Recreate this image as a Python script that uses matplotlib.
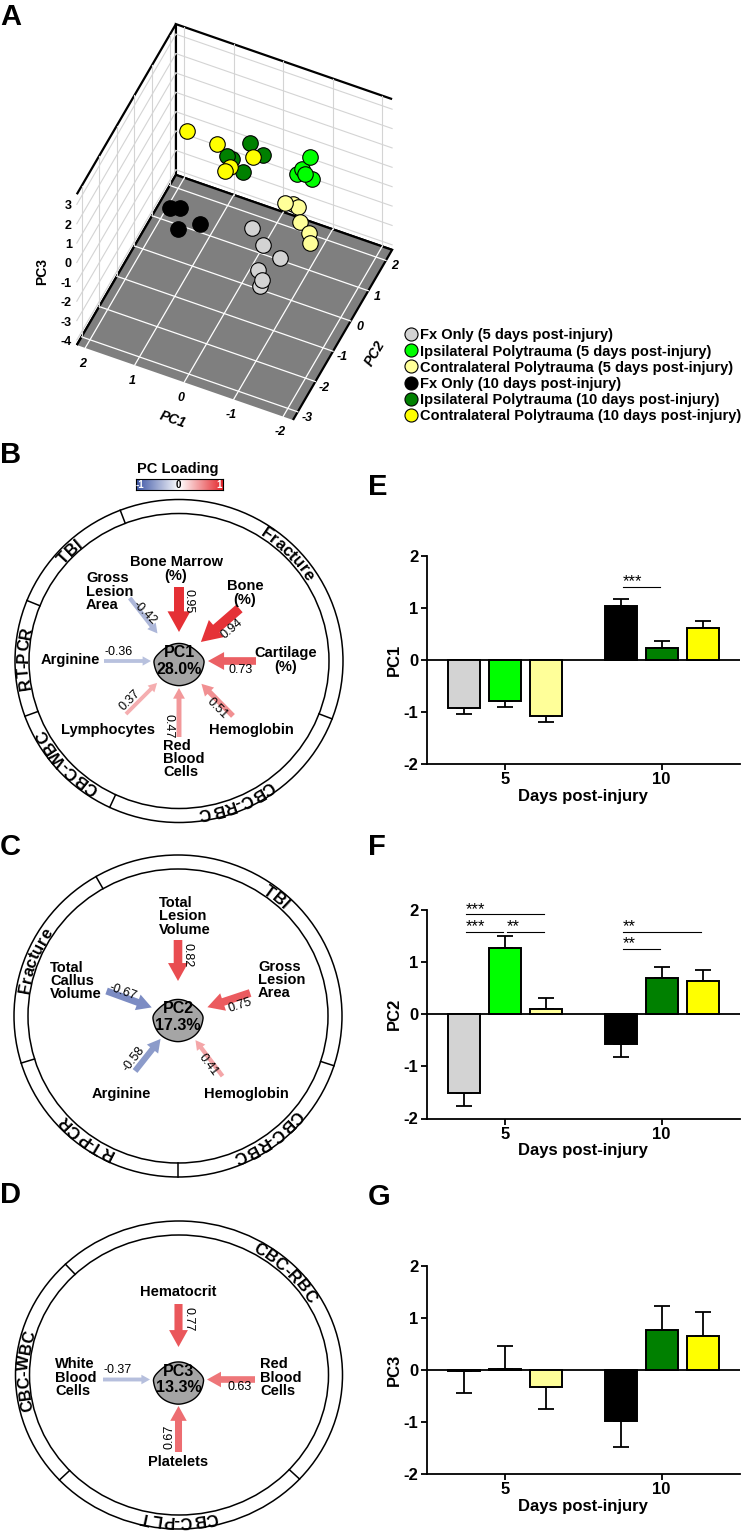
import numpy as np
import matplotlib
matplotlib.use("Agg")
import matplotlib.pyplot as plt
from matplotlib.colors import LinearSegmentedColormap, Normalize
from matplotlib.patches import FancyArrow, Ellipse, Polygon
from matplotlib.font_manager import FontProperties
from matplotlib.textpath import TextToPath
from matplotlib.lines import Line2D
from mpl_toolkits.mplot3d import proj3d

plt.rcParams['font.family'] = ['Liberation Sans', 'DejaVu Sans']
plt.rcParams['axes.unicode_minus'] = False
try:
    plt.rcParams['axes3d.automargin'] = False
except KeyError:
    pass

W, H = 742, 1533

# ---------------- data ----------------
groups = ['Fx Only (5 days post-injury)', 'Ipsilateral Polytrauma (5 days post-injury)',
          'Contralateral Polytrauma (5 days post-injury)', 'Fx Only (10 days post-injury)',
          'Ipsilateral Polytrauma (10 days post-injury)', 'Contralateral Polytrauma (10 days post-injury)']
colors = ['#d3d3d3', '#00ff00', '#ffff99', '#000000', '#008000', '#ffff00']

# A: PCA scores of each animal
pc1_a = [[-0.53, -0.83, -1.15, -0.92, -1.13, -1.06],
         [-0.79, -0.72, -0.61, -0.93, -0.81],
         [-0.75, -0.84, -0.97, -1.09, -1.37, -1.45],
         [1.26, 1.16, 1.10, 0.61],
         [0.20, -0.02, 0.50, 0.48, 0.16],
         [1.44, 0.85, 0.16, 0.46, 0.41]]
pc2_a = [[-0.93, -1.11, -1.05, -1.65, -2.03, -1.97],
         [1.65, 1.38, 1.41, 1.36, 1.33],
         [0.34, 0.57, 0.48, 0.23, -0.03, -0.19],
         [-0.56, -0.25, -0.53, -0.66],
         [1.01, 1.15, 0.55, 0.77, 0.53],
         [0.91, 0.95, 1.09, 0.33, 0.46]]
pc3_a = [[0.5, 0.2, -0.3, -0.2, 0.1, -0.4],
         [0.4, 0.1, -0.3, -0.2, 0.0],
         [0.0, -0.3, -0.2, -0.5, -0.4, -0.6],
         [-0.6, -1.0, -1.6, -0.7],
         [1.2, 0.6, 1.0, 0.5, 0.5],
         [0.9, 0.7, 0.4, 0.6, 0.65]]
pc1_lim = (-2.2, 2.17)
pc2_lim = (-3.27, 2.35)
pc3_lim = (-4.26, 3.52)
pc1_ticks = [-2, -1, 0, 1, 2]
pc2_ticks = [-3, -2, -1, 0, 1, 2]
pc3_ticks = [-4, -3, -2, -1, 0, 1, 2, 3]

# E-G: mean +/- SEM per group
days = ['5', '10']
pc1_mean = [-0.92, -0.78, -1.08, 1.04, 0.24, 0.62]
pc1_err = [0.12, 0.12, 0.12, 0.13, 0.12, 0.13]
pc2_mean = [-1.51, 1.28, 0.10, -0.58, 0.69, 0.64]
pc2_err = [0.25, 0.22, 0.22, 0.24, 0.21, 0.21]
pc3_mean = [-0.02, 0.01, -0.33, -0.98, 0.76, 0.65]
pc3_err = [0.42, 0.44, 0.42, 0.51, 0.46, 0.46]
pc1_sig = [(3, 4, 1.41, '***')]
pc2_sig = [(0, 2, 1.92, '***'), (0, 1, 1.58, '***'), (1, 2, 1.58, '**'),
           (3, 5, 1.58, '**'), (3, 4, 1.26, '**')]
pc3_sig = []

# B-D: loadings
pc_names = ['PC1', 'PC2', 'PC3']
pc_var = ['28.0%', '17.3%', '13.3%']
b_vars = ['Bone Marrow\n(%)', 'Bone\n(%)', 'Cartilage\n(%)', 'Hemoglobin', 'Red\nBlood\nCells',
          'Lymphocytes', 'Arginine', 'Gross\nLesion\nArea']
b_load = [0.95, 0.94, 0.73, 0.51, 0.47, 0.37, -0.36, -0.42]
b_cats = ['TBI', 'RT-PCR', 'CBC-WBC', 'CBC-RBC', 'Fracture']
c_vars = ['Total\nLesion\nVolume', 'Gross\nLesion\nArea', 'Hemoglobin', 'Arginine', 'Total\nCallus\nVolume']
c_load = [0.82, 0.75, 0.41, -0.58, -0.67]
c_cats = ['Fracture', 'RT-PCR', 'CBC-RBC', 'TBI']
d_vars = ['Hematocrit', 'Red\nBlood\nCells', 'Platelets', 'White\nBlood\nCells']
d_load = [0.77, 0.63, 0.67, -0.37]
d_cats = ['CBC-WBC', 'CBC-PLT', 'CBC-RBC']

# ---------------- layout of the loading diagrams (pixels) ----------------
b_lay = dict(c=(179, 661), hub=(0, 0), rx=164, ry=161.5, div=[111, 158, 200, 245, 339],
             ang=[90, 41, 0, -45.5, -90, -135, 180, 128],
             rt=[74, 80, 77, 77, 76, 75, 75, 80], rh=[29, 29, 29, 32, 27, 31, 28, 35],
             lab=[(-3, 92, 'center'), (66, 68, 'center'), (107, 1, 'center'), (72, -69, 'center'),
                  (-16, -98, 'left'), (-71, -69, 'center'), (-109, 1, 'center'), (-93, 69.5, 'left')],
             num=[(9.3, 60, -90), (53, 32, 40), (61.7, -9, 0), (37.7, -47.3, -45),
                  (-10.7, -65, -90), (-49, -39, 45), (-60.7, 9.3, 0), (-34, 47.7, -45)])
c_lay = dict(c=(178, 1016), hub=(0, -1), rx=164, ry=161, div=[120, 197, 270, 342],
             ang=[90, 18.4, -53, 231.5, 160],
             rt=[77, 76, 74, 69, 76], rh=[36, 31, 29, 28, 28],
             lab=[(-18.7, 100.5, 'left'), (80, 36.7, 'left'), (68.7, -76.7, 'center'),
                  (-56.3, -76.7, 'center'), (-128, 35.8, 'left')],
             num=[(9.3, 61.7, -90), (62, 11.7, 18), (30.3, -48.3, -53), (-44.7, -41.7, 52),
                  (-54.7, 25, -20)])
d_lay = dict(c=(179, 1375), hub=(-0.5, -4.5), rx=163.5, ry=154, div=[134, 223, 317.5],
             ang=[90, 0, -90, 180],
             rt=[75.5, 76.5, 72.5, 75.5], rh=[32.5, 28.5, 26.5, 28.5],
             lab=[(0, 87.5, 'center'), (81.5, 2, 'left'), (0, -82.5, 'center'), (-123.5, 2, 'left')],
             num=[(9.5, 60.5, -90), (61.5, -7.5, 0), (-9.5, -57.5, 90), (-60.5, 9.5, 0)])

cmap = LinearSegmentedColormap.from_list('pc_loading', ['#3b54a5', '#ffffff', '#e4262b'])
norm = Normalize(-1, 1)

fig = plt.figure(figsize=(W / 100, H / 100), dpi=100)


def rect(x0, y0, x1, y1):
    return [x0 / W, 1 - y1 / H, (x1 - x0) / W, (y1 - y0) / H]


# ---------------- A: 3D score plot ----------------
ax3 = fig.add_axes(rect(20, 10, 420, 410), projection='3d', proj_type='ortho', computed_zorder=False)
ax3.patch.set_visible(False)
ax3.set_box_aspect((1.02, 1, 1.0))
ax3.view_init(elev=50.5, azim=-155.8)
ax3.set_xlim(*pc2_lim)
ax3.set_ylim(*pc1_lim)
ax3.set_zlim(*pc3_lim)
ax3.set_xticks([])
ax3.set_yticks([])
ax3.set_zticks([])
ax3.grid(False)
ax3.xaxis.set_pane_color('white')
ax3.yaxis.set_pane_color('white')
ax3.zaxis.set_pane_color('#7f7f7f')
for axis in (ax3.xaxis, ax3.yaxis, ax3.zaxis):
    axis.pane.set_edgecolor('black')
    axis.pane.set_linewidth(1.6)
    axis.line.set_visible(False)

x_lo, x_hi = pc2_lim
y_lo, y_hi = pc1_lim
z_lo, z_hi = pc3_lim
wall = '#d4d4d4'
for v in pc1_ticks:
    ax3.plot([x_lo, x_hi], [v, v], [z_lo, z_lo], color='white', lw=0.9, zorder=1)
    ax3.plot([x_hi, x_hi], [v, v], [z_lo, z_hi], color=wall, lw=0.8, zorder=1)
for v in pc2_ticks:
    ax3.plot([v, v], [y_lo, y_hi], [z_lo, z_lo], color='white', lw=0.9, zorder=1)
    ax3.plot([v, v], [y_hi, y_hi], [z_lo, z_hi], color=wall, lw=0.8, zorder=1)
for v in pc3_ticks:
    ax3.plot([x_lo, x_hi], [y_hi, y_hi], [v, v], color=wall, lw=0.8, zorder=1)
    ax3.plot([x_hi, x_hi], [y_lo, y_hi], [v, v], color=wall, lw=0.8, zorder=1)

for g in range(6):
    ax3.scatter(pc2_a[g], pc1_a[g], pc3_a[g], s=125, c=colors[g], edgecolors='black',
                linewidths=0.8, depthshade=False, zorder=3)

fig.canvas.draw()


def to_px(x, y, z):
    xs, ys, _ = proj3d.proj_transform(np.array([x]), np.array([y]), np.array([z]), ax3.get_proj())
    dx, dy = ax3.transData.transform((xs[0], ys[0]))
    return np.array([dx, H - dy])


# fit the projected box onto its place in the figure
pF = to_px(x_lo, y_lo, z_lo)
pT = to_px(x_hi, y_hi, z_hi)
tF = np.array([293.0, 420.0])
tT = np.array([173.0, 25.0])
k = np.linalg.norm(tF - tT) / np.linalg.norm(pF - pT)
bb = ax3.get_position()
cen = np.array([(bb.x0 + bb.x1) / 2 * W, H - (bb.y0 + bb.y1) / 2 * H])
side = bb.width * W * k
cnew = tF - k * (pF - cen)
ax3.set_position(rect(cnew[0] - side / 2, cnew[1] - side / 2, cnew[0] + side / 2, cnew[1] + side / 2))
fig.canvas.draw()

tick_it = dict(fontsize=9, fontweight='bold', fontstyle='italic', ha='center', va='center')
for v in pc1_ticks:
    p = to_px(x_lo, v, z_lo)
    fig.text((p[0] - 2.7) / W, 1 - (p[1] + 15.8) / H, str(v), **tick_it)
for v in pc2_ticks:
    p = to_px(v, y_lo, z_lo)
    fig.text((p[0] + 9) / W, 1 - (p[1] + 6) / H, str(v), **tick_it)
for v in pc3_ticks:
    p = to_px(x_lo, y_hi, v)
    fig.text((p[0] - 5) / W, 1 - (p[1] + 2) / H, str(v), fontsize=9, fontweight='bold', ha='right', va='center')
fig.text(41.7 / W, 1 - 271.7 / H, 'PC3', fontsize=10, fontweight='bold', rotation=90, ha='center', va='center')
fig.text(173.3 / W, 1 - 420 / H, 'PC1', fontsize=10, fontweight='bold', fontstyle='italic',
         rotation=-19, ha='center', va='center')
fig.text(375 / W, 1 - 353.3 / H, 'PC2', fontsize=10, fontweight='bold', fontstyle='italic',
         rotation=60, ha='center', va='center')

handles = [Line2D([], [], marker='o', ls='', markersize=9.4, markerfacecolor=c,
                  markeredgecolor='black', markeredgewidth=0.8) for c in colors]
fig.legend(handles, groups, loc='upper left', bbox_to_anchor=(404 / W, 1 - 328.5 / H), frameon=False,
           prop=FontProperties(family=['Liberation Sans'], weight='bold', size=10.5),
           handlelength=1.0, handletextpad=0.1, labelspacing=0.14, borderpad=0, borderaxespad=0)

# ---------------- B-D: loading diagrams ----------------
ttp = TextToPath()
RING = 14


def curved_text(ax, s, ang, rx, ry, fs=12):
    fp = FontProperties(family=['Liberation Sans'], weight='bold', size=fs)
    kk = 100 / 72

    def wid(t):
        return ttp.get_text_width_height_descent(t, fp, ismath=False)[0] * kk if t else 0.0
    total = wid(s)
    cap = 0.716 * fs * kk
    r = (rx + ry) / 2 - cap / 2
    for i, ch in enumerate(s):
        c = (wid(s[:i]) + wid(s[:i + 1])) / 2 - total / 2
        a = np.radians(ang) - c / r
        ax.text((rx - cap / 2) * np.cos(a), (ry - cap / 2) * np.sin(a), ch, rotation=np.degrees(a) - 90,
                rotation_mode='anchor', ha='center', va='baseline', fontproperties=fp)


def hub_outline(hx, hy):
    # rounded triangle: wide domed top, pointed bottom
    V = np.array([[-25.5, 2], [25.5, 2], [0, -25]], float) + [hx, hy]
    bul = [16, 8, 8]
    pts = []
    t = np.linspace(0, 1, 7)[:-1]
    for i in range(3):
        p, q = V[i], V[(i + 1) % 3]
        d = q - p
        n = np.array([-d[1], d[0]]) / np.hypot(*d)
        c = (p + q) / 2 + 2 * bul[i] * n
        for s in t:
            pts.append((1 - s) ** 2 * p + 2 * s * (1 - s) * c + s ** 2 * q)
    pts = np.array(pts)
    for _ in range(4):
        nxt = np.roll(pts, -1, axis=0)
        pts = np.column_stack([0.75 * pts + 0.25 * nxt, 0.25 * pts + 0.75 * nxt]).reshape(-1, 2)
    return pts


def diagram(name, var, labels, loads, cats, lay):
    cx, cy = lay['c']
    y0 = cy - 190
    y1 = min(cy + 190, H)
    ax = fig.add_axes(rect(0, y0, 370, y1))
    ax.set_xlim(-cx, 370 - cx)
    ax.set_ylim(cy - y1, cy - y0)
    ax.axis('off')
    rx, ry = lay['rx'], lay['ry']
    for d in (0, RING):
        ax.add_patch(Ellipse((0, 0), 2 * (rx - d), 2 * (ry - d), fill=False, lw=1.1, ec='black'))
    div = lay['div']
    for a in div:
        t = np.radians(a)
        ax.plot([(rx - RING) * np.cos(t), rx * np.cos(t)], [(ry - RING) * np.sin(t), ry * np.sin(t)],
                color='black', lw=1.1)
    for i, cat in enumerate(cats):
        a0, a1 = div[i], div[(i + 1) % len(div)]
        if a1 < a0:
            a1 += 360
        curved_text(ax, cat, (a0 + a1) / 2, rx - RING / 2, ry - RING / 2)

    hx, hy = lay['hub']
    for l, a, r0, r1 in zip(loads, lay['ang'], lay['rt'], lay['rh']):
        t = np.radians(a)
        xa, ya = hx + r0 * np.cos(t), hy + r0 * np.sin(t)
        xb, yb = hx + r1 * np.cos(t), hy + r1 * np.sin(t)
        w = 10.5 * abs(l)
        hw = 2.2 * w + 1
        ax.add_patch(FancyArrow(xa, ya, xb - xa, yb - ya, width=w, head_width=hw, head_length=0.9 * hw,
                                length_includes_head=True, color=cmap(norm(l)), lw=0))
    for lab, (dx, dy, ha) in zip(labels, lay['lab']):
        ax.text(hx + dx, hy + dy, lab, ha=ha, va='center', multialignment=ha, fontsize=10.5,
                fontweight='bold', linespacing=0.92)
    for l, (dx, dy, rot) in zip(loads, lay['num']):
        ax.text(hx + dx, hy + dy, f'{l:.2f}', ha='center', va='center', rotation=rot, fontsize=9,
                rotation_mode='anchor')

    ax.add_patch(Polygon(hub_outline(hx, hy), closed=True, fc='#a5a5a5', ec='black', lw=1.0))
    ax.text(hx, hy + 8.5, name, ha='center', va='center', fontsize=11.5, fontweight='bold')
    ax.text(hx, hy - 8.5, var, ha='center', va='center', fontsize=11.5, fontweight='bold')


diagram(pc_names[0], pc_var[0], b_vars, b_load, b_cats, b_lay)
diagram(pc_names[1], pc_var[1], c_vars, c_load, c_cats, c_lay)
diagram(pc_names[2], pc_var[2], d_vars, d_load, d_cats, d_lay)

cax = fig.add_axes(rect(136, 479, 223, 490))
cax.imshow(np.linspace(-1, 1, 256)[None, :], cmap=cmap, norm=norm, aspect='auto', extent=(-1, 1, 0, 1))
cax.set_xticks([])
cax.set_yticks([])
for s in cax.spines.values():
    s.set_linewidth(0.8)
for v, txt, col in [(-0.9, '-1', 'white'), (-0.02, '0', 'black'), (0.9, '1', 'white')]:
    cax.text(v, 0.45, txt, color=col, ha='center', va='center', fontsize=7, fontweight='bold')
fig.text(178 / W, 1 - 469 / H, 'PC Loading', ha='center', va='center', fontsize=10.5, fontweight='bold')

# ---------------- E-G: bar charts ----------------
offs = [-0.261, 0.0, 0.261]
xpos = [g + o for g in range(len(days)) for o in offs]


def bar_panel(r, means, errs, ylab, sigs):
    ax = fig.add_axes(rect(*r))
    ax.axhline(0, color='black', lw=1.3, zorder=1)
    lo = [e if m < 0 else 0 for m, e in zip(means, errs)]
    hi = [0 if m < 0 else e for m, e in zip(means, errs)]
    ax.errorbar(xpos, means, yerr=[lo, hi], fmt='none', ecolor='black', elinewidth=1.3,
                capsize=6, capthick=1.3, zorder=2)
    ax.bar(xpos, means, width=0.204, color=colors, edgecolor='black', linewidth=1.4, zorder=3)
    for i, j, y, s in sigs:
        x0, x1 = xpos[i] + 0.012, xpos[j] - 0.012
        ax.plot([x0, x1], [y, y], color='black', lw=0.8)
        ax.text(x0, y + 0.01, s, fontsize=12, ha='left', va='baseline')
    ax.set_xlim(-0.5, 1.5)
    ax.set_ylim(-2, 2)
    ax.set_yticks([-2, -1, 0, 1, 2])
    ax.set_xticks(range(len(days)))
    ax.set_xticklabels(days)
    ax.spines['top'].set_visible(False)
    ax.spines['right'].set_visible(False)
    for s in ('left', 'bottom'):
        ax.spines[s].set_linewidth(1.3)
    ax.tick_params(width=1.3, length=4, labelsize=12, pad=2)
    for lab in ax.get_xticklabels() + ax.get_yticklabels():
        lab.set_fontweight('bold')
    ax.set_ylabel(ylab, fontsize=12, fontweight='bold', labelpad=1)
    ax.set_xlabel('Days post-injury', fontsize=12, fontweight='bold', labelpad=1)


bar_panel((426.7, 556, 740, 764), pc1_mean, pc1_err, 'PC1', pc1_sig)
bar_panel((426.7, 910, 740, 1118.5), pc2_mean, pc2_err, 'PC2', pc2_sig)
bar_panel((426.7, 1265.7, 740, 1474), pc3_mean, pc3_err, 'PC3', pc3_sig)

# ---------------- panel letters ----------------
for txt, x, y in [('A', 0, 25), ('B', 0, 463), ('C', 0, 855), ('D', 0, 1203),
                  ('E', 368, 495), ('F', 368, 855), ('G', 368, 1205)]:
    fig.text(x / W, 1 - y / H, txt, fontsize=21, fontweight='bold', ha='left', va='baseline')

fig.savefig('out.png', dpi=100)
